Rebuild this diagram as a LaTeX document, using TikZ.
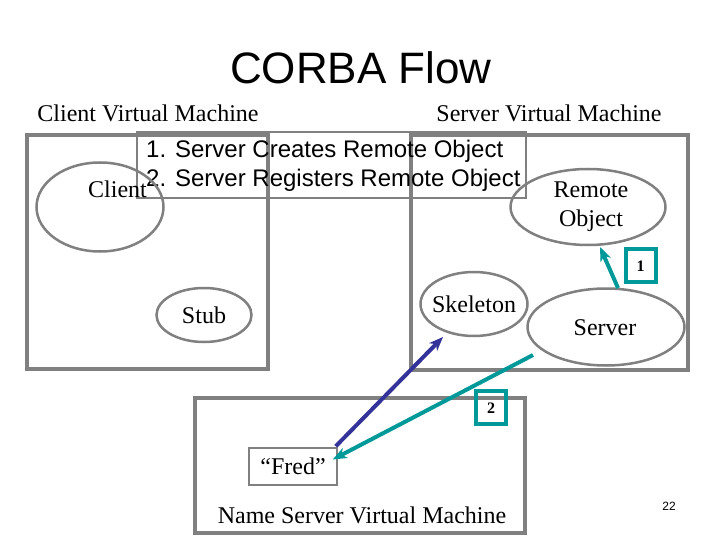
\documentclass[tikz,border=0pt]{standalone}
\usepackage{fontspec}
\setmainfont{Liberation Serif}
\setsansfont{Liberation Sans}
\usetikzlibrary{shapes.geometric,arrows.meta,calc}
\definecolor{frame}{RGB}{128,128,128}
\definecolor{teal2}{RGB}{0,153,153}
\definecolor{navy2}{RGB}{51,51,153}
\begin{document}
\begin{tikzpicture}[x=1pt,y=-1pt,
  vmbox/.style={draw=frame,line width=4pt},
  ell/.style={draw=frame,line width=2.5pt,ellipse,inner sep=0pt},
  lbl/.style={font=\fontsize{24}{28}\selectfont,inner sep=0pt,anchor=base},
  numbox/.style={draw=teal2,line width=4pt,minimum width=30pt,minimum height=33pt,inner sep=0pt},
  numlbl/.style={font=\bfseries\fontsize{16}{18}\selectfont,inner sep=0pt,anchor=base},
  arr/.style={line width=4pt,-{Stealth[length=14pt,width=11pt,inset=4pt]}}]
\useasboundingbox (0,0) rectangle (720,540);
\fill[white] (0,0) rectangle (720,540);
% title
\node[font=\sffamily\fontsize{44}{50}\selectfont,inner sep=0pt,anchor=base] (title) at (361,84) {CORBA Flow};
\node[lbl] (cvm) at (148,122) {Client Virtual Machine};
\node[lbl] (svm) at (549,122) {Server Virtual Machine};
% machine boxes
\draw[vmbox] (27,135) rectangle (268,369);
\draw[vmbox] (411,135) rectangle (688,370);
\draw[vmbox] (195,398) rectangle (525,533);
% text box
\node[draw=frame,line width=2pt,minimum width=389pt,minimum height=66pt,inner sep=0pt] (steps) at (331.5,165) {};
\node[font=\sffamily\fontsize{24}{28}\selectfont,inner sep=0pt,anchor=base west] (s1) at (146,158) {1. Server Creates Remote Object};
\node[font=\sffamily\fontsize{24}{28}\selectfont,inner sep=0pt,anchor=base west] (s2) at (146,187) {2. Server Registers Remote Object};
% client
\node[ell,minimum width=127pt,minimum height=89pt] (client) at (100,207) {};
\node[lbl,anchor=base west] (clientlbl) at (88,197) {Client};
% stub
\node[ell,minimum width=95pt,minimum height=54pt] (stub) at (204,315) {};
\node[lbl] (stublbl) at (204,323) {Stub};
% remote object
\node[ell,minimum width=155pt,minimum height=76pt] (remote) at (588,207) {};
\node[lbl] (rem1) at (591,197) {Remote};
\node[lbl] (rem2) at (591,226) {Object};
% skeleton
\node[ell,minimum width=107pt,minimum height=64pt] (skel) at (474,304) {};
\node[lbl] (skellbl) at (474,312) {Skeleton};
% server
\node[ell,minimum width=157pt,minimum height=77pt] (server) at (606,327) {};
\node[lbl] (serverlbl) at (605,335) {Server};
% number boxes
\node[numbox] (n1) at (640.5,265) {};
\node[numlbl] (n1lbl) at (640.5,271) {1};
\node[numbox] (n2) at (491,407.5) {};
\node[numlbl] (n2lbl) at (491,413.5) {2};
% Fred
\node[draw=frame,line width=1.5pt,minimum width=88pt,minimum height=37pt,inner sep=0pt] (fred) at (293,466.5) {};
\node[lbl] (fredlbl) at (293,474) {“Fred”};
\node[lbl] (nsvm) at (362,523) {Name Server Virtual Machine};
% page number
\node[font=\sffamily\fontsize{12}{14}\selectfont,inner sep=0pt,anchor=base] (page) at (669,510) {22};
% arrows
\draw[arr,teal2] ($(server.center)+(12,-39)$) -- ($(remote.center)+(12,40)$);
\draw[arr,navy2] ($(fred.north east)+(-2,-1)$) -- ($(skel.center)+(-31,33)$);
\draw[arr,teal2] ($(server.center)+(-73,28)$) -- ($(fred.east)+(-5,-7)$);
\end{tikzpicture}
\end{document}
